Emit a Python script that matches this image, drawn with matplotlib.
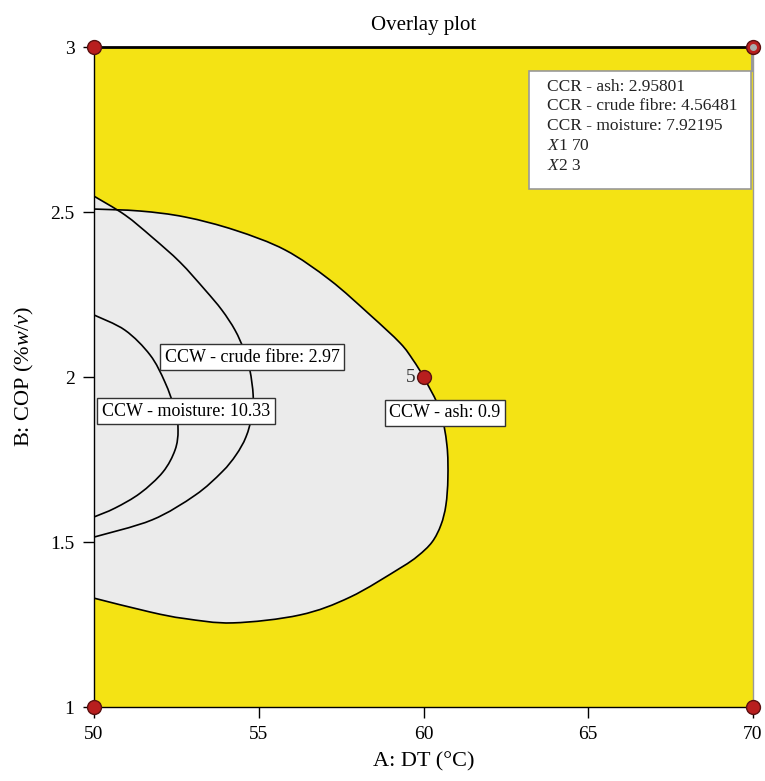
import numpy as np
import matplotlib
matplotlib.use("Agg")
import matplotlib.pyplot as plt
from matplotlib.patches import Rectangle, PathPatch
from matplotlib.path import Path

plt.rcParams['font.family'] = ['Liberation Serif', 'DejaVu Serif']
plt.rcParams['mathtext.fontset'] = 'custom'
plt.rcParams['mathtext.rm'] = 'Liberation Serif'
plt.rcParams['mathtext.it'] = 'Liberation Serif:italic'

# contour lines (A: DT, B: COP)
ash_x = [50, 51.40, 52.76, 54.28, 55.80, 57.16, 58.38, 59.29, 59.68, 60.0, 60.50,
         60.71, 60.74, 60.68, 60.53, 60.26, 59.83, 59.29, 57.77, 56.25, 54.22,
         52.76, 51.70, 50]
ash_y = [2.509, 2.503, 2.485, 2.445, 2.385, 2.294, 2.188, 2.103, 2.052, 2.0, 1.900,
         1.794, 1.694, 1.612, 1.552, 1.500, 1.458, 1.421, 1.333, 1.279, 1.255,
         1.268, 1.288, 1.330]
fibre_x = [50, 50.94, 51.76, 52.61, 53.37, 53.88, 54.28, 54.55, 54.73, 54.83, 54.80,
           54.61, 54.31, 53.88, 53.07, 51.76, 50]
fibre_y = [2.548, 2.491, 2.424, 2.348, 2.264, 2.203, 2.142, 2.082, 2.021, 1.945, 1.885,
           1.818, 1.764, 1.712, 1.642, 1.567, 1.515]
moist_x = [50, 50.94, 51.70, 52.15, 52.46, 52.55, 52.46, 52.09, 51.40, 50.64, 50]
moist_y = [2.188, 2.142, 2.067, 1.985, 1.900, 1.839, 1.779, 1.712, 1.648, 1.603, 1.576]

labels = ["CCW - crude fibre: 2.97", "CCW - moisture: 10.33", "CCW - ash: 0.9"]
label_x = [54.80, 52.79, 60.65]
label_y = [2.06, 1.897, 1.891]

design_x = [50, 70, 50, 70, 60]
design_y = [1, 1, 3, 3, 2]

legend_lines = ["CCR - ash: 2.95801", "CCR - crude fibre: 4.56481",
                "CCR - moisture: 7.92195", "$X$1 70", "$X$2 3"]

yellow = "#F4E314"
gray = "#EBEBEB"
red = "#B81E1E"


def smooth_path(xs, ys, closed=False):
    # bezier path passing through the read points (catmull-rom tangents)
    p = np.column_stack([xs, ys]).astype(float)
    verts = [p[0]]
    codes = [Path.MOVETO]
    n = len(p)
    for i in range(n - 1):
        p0 = p[i - 1] if i > 0 else p[i]
        p3 = p[i + 2] if i + 2 < n else p[i + 1]
        c1 = p[i] + (p[i + 1] - p0) / 6
        c2 = p[i + 1] - (p3 - p[i]) / 6
        verts += [c1, c2, p[i + 1]]
        codes += [Path.CURVE4] * 3
    if closed:
        verts.append(p[0])
        codes.append(Path.CLOSEPOLY)
    return Path(verts, codes)


fig = plt.figure(figsize=(7.65, 7.81), dpi=100)
ax = fig.add_axes([0.1229, 0.0947, 0.8614, 0.8451])
ax.set_facecolor(yellow)

for xs, ys in [(ash_x, ash_y), (fibre_x, fibre_y)]:
    ax.add_patch(PathPatch(smooth_path(xs, ys, closed=True), fc=gray, lw=0, zorder=1))
for xs, ys in [(ash_x, ash_y), (fibre_x, fibre_y), (moist_x, moist_y)]:
    ax.add_patch(PathPatch(smooth_path(xs, ys), fc="none", ec="black", lw=1.2, zorder=2))

for t, x, y in zip(labels, label_x, label_y):
    ax.text(x, y, t, ha="center", va="center", fontsize=13, zorder=4,
            bbox=dict(boxstyle="square,pad=0.25", fc="white", ec="#333333", lw=1))

ax.plot(design_x, design_y, "o", ms=10, mfc=red, mec="#5a1010", mew=1,
        clip_on=False, zorder=6)
ax.text(59.6, 2.0, "5", ha="center", va="center", fontsize=14, color="#333333", zorder=5)
ax.plot([70], [3], "o", ms=4, color="#aaaaaa", clip_on=False, zorder=7)

# legend box for the flagged point
ax.add_patch(Rectangle((0.660, 0.785), 0.337, 0.178, transform=ax.transAxes,
                       fc="white", ec="#999999", lw=1.2, zorder=5))
ax.plot([0.9985, 0.9985], [0.963, 1.0], transform=ax.transAxes, color="#999999",
        lw=1.5, clip_on=False, zorder=5)
for i, t in enumerate(legend_lines):
    ax.text(0.687, 0.940 - i * 0.0300, t, transform=ax.transAxes, fontsize=12.5,
            va="center", ha="left", color="#222222", zorder=6)

ax.set_xlim(50, 70)
ax.set_ylim(1, 3)
ax.set_xticks([50, 55, 60, 65, 70])
ax.set_yticks([1, 1.5, 2, 2.5, 3])
ax.set_yticklabels(["1", "1.5", "2", "2.5", "3"])
ax.tick_params(direction="out", length=8, width=1, labelsize=14, pad=6)
for s in ax.spines.values():
    s.set_linewidth(1)
ax.spines["top"].set_linewidth(2)
ax.spines["right"].set_color("#999999")
ax.set_xlabel("A: DT (°C)", fontsize=16, labelpad=6)
ax.set_ylabel("B: COP (%$w/v$)", fontsize=16, labelpad=10)
ax.set_title("Overlay plot", fontsize=15, pad=12)

fig.savefig("out.png", dpi=100)
